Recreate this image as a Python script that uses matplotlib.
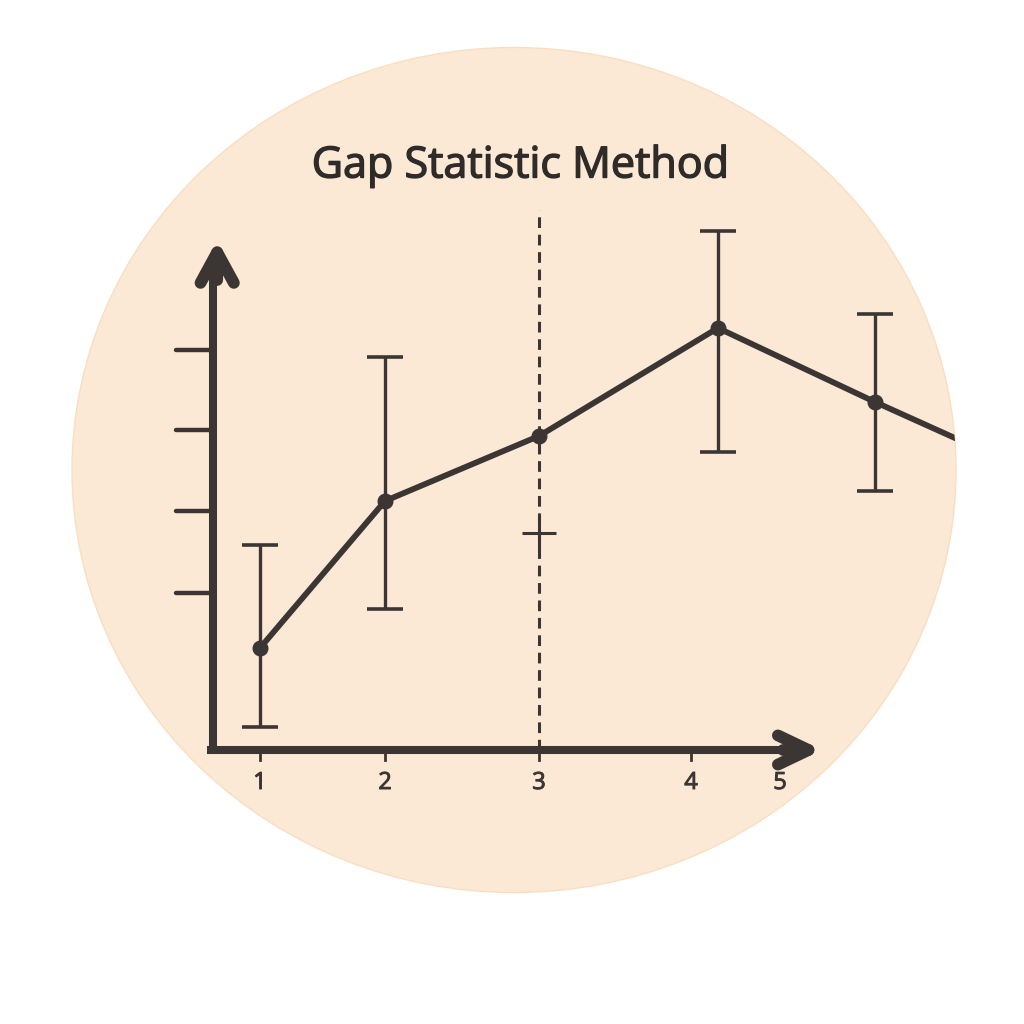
import matplotlib
matplotlib.use("Agg")
import matplotlib.pyplot as plt
import matplotlib.patheffects as pe
from matplotlib.patches import Ellipse

# gap statistic by number of clusters k (positions)
k_pos = [1, 1.896, 3, 4.283, 5.409, 6.3]
gap = [1.02, 2.49, 3.14, 4.22, 3.48, 2.92]

# error bars (only where drawn)
err_k = [1, 1.896, 4.283, 5.409]
err_gap = [1.02, 2.49, 4.22, 3.48]
err_low = [0.23, 1.41, 2.98, 2.59]
err_high = [2.05, 3.93, 5.19, 4.36]

# single "+" mark at the chosen k
best_k = 3
best_mark = 2.17

x_tick_pos = [1, 1.896, 3, 4.09]
x_tick_labels = ['1', '2', '3', '4']
extra_label_pos = 4.728
extra_label = '5'
y_tick_pos = [1.57, 2.39, 3.20, 4.00]

dark = '#3b3633'
fill = '#fbe9d6'

fig = plt.figure(figsize=(10.24, 10.24), dpi=100)
fig.patch.set_facecolor('white')
ax = fig.add_axes([0, 0, 1, 1])
ax.set_xlim(-0.864, 6.477)
ax.set_ylim(-2.74, 7.5)
ax.axis('off')

# background disc (figure fraction)
disc = Ellipse((514 / 1024, 1 - 470 / 1024), 884 / 1024, 845 / 1024,
               transform=fig.transFigure, facecolor=fill, edgecolor='#f8dfc2',
               lw=1.0, zorder=0)
ax.add_patch(disc)

# axes with arrow heads
x0 = 0.663
ax.plot([x0, x0], [0, 4.9], color=dark, lw=5.8, solid_capstyle='butt', zorder=3)
ax.plot([x0 - 0.04, 4.95], [0, 0], color=dark, lw=5.8, solid_capstyle='butt', zorder=3)
arr_y = dict(arrowstyle='->,head_length=2.2,head_width=1.2', lw=8.5, color=dark,
             capstyle='round', joinstyle='round', shrinkA=0, shrinkB=0)
arr_x = dict(arrowstyle='->,head_length=2.2,head_width=1.05', lw=8.5, color=dark,
             capstyle='round', joinstyle='round', shrinkA=0, shrinkB=0)
ax.annotate('', xy=(x0 + 0.03, 5.1), xytext=(x0 + 0.03, 4.7), arrowprops=arr_y, zorder=3)
ax.annotate('', xy=(5.03, 0), xytext=(4.75, 0), arrowprops=arr_x, zorder=3)

# y ticks (outside, no labels)
for yt in y_tick_pos:
    ax.plot([x0 - 0.265, x0], [yt, yt], color=dark, lw=3.2, solid_capstyle='round', zorder=3)

bold_fx = [pe.withStroke(linewidth=0.7, foreground=dark)]

# x ticks and labels
for xt, lab in zip(x_tick_pos, x_tick_labels):
    ax.plot([xt, xt], [0, -0.1], color=dark, lw=2, zorder=3)
    ax.text(xt, -0.33, lab, ha='center', va='center', fontsize=17,
            family='Open Sans', color=dark, path_effects=bold_fx)
ax.text(extra_label_pos, -0.33, extra_label, ha='center', va='center', fontsize=17,
        family='Open Sans', color=dark, path_effects=bold_fx)

# dashed line at chosen k
ax.plot([best_k, best_k], [0, 5.4], color=dark, lw=2.2,
        linestyle=(0, (3.5, 2.2)), zorder=2)
ax.plot([best_k], [best_mark], marker='+', ms=24, mew=2.2, color=dark, zorder=3)

# error bars
ax.errorbar(err_k, err_gap,
            yerr=[[g - lo for g, lo in zip(err_gap, err_low)],
                  [hi - g for g, hi in zip(err_gap, err_high)]],
            fmt='none', ecolor=dark, elinewidth=2.4, capsize=13, capthick=2.6, zorder=4)

# gap curve, clipped to the disc
line, = ax.plot(k_pos, gap, color=dark, lw=4.2, solid_joinstyle='round', zorder=5)
line.set_clip_path(disc)
ax.plot(k_pos[:-1], gap[:-1], 'o', color=dark, ms=10.5, zorder=6)

ax.text(0.508, 1 - 166 / 1024, 'Gap Statistic Method', transform=fig.transFigure,
        ha='center', va='center', fontsize=31, family='Open Sans',
        color='#2f2b29', path_effects=[pe.withStroke(linewidth=1.0, foreground='#2f2b29')])

fig.savefig('out.png', dpi=100, facecolor='white')
